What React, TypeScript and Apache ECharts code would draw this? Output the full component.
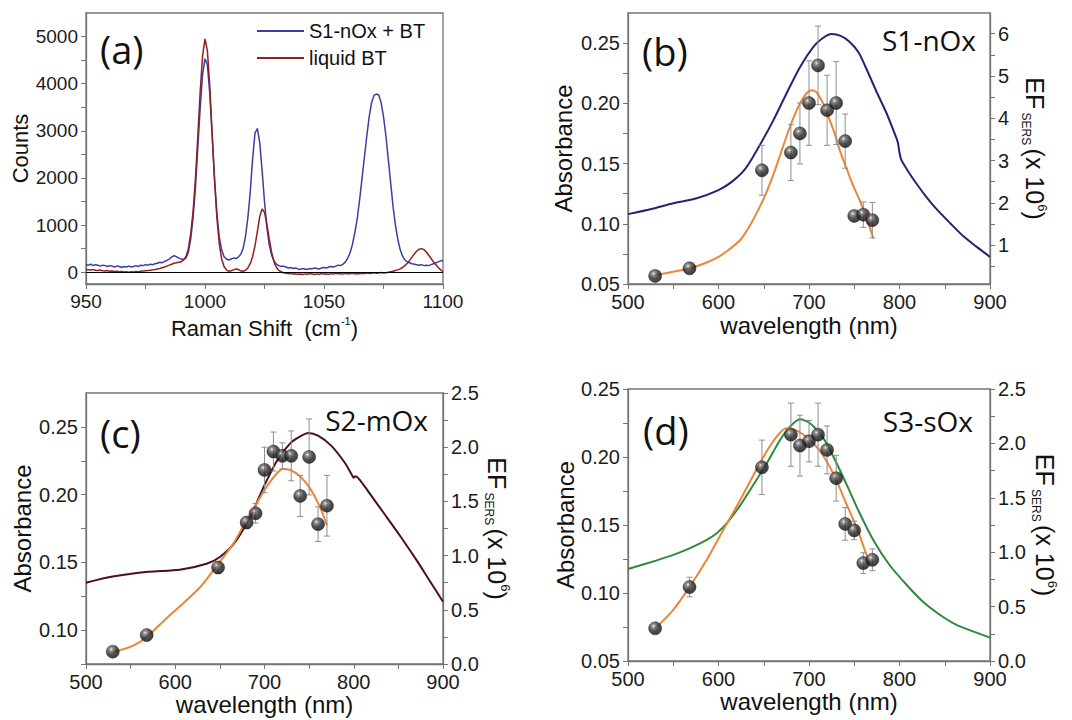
import React, { useEffect, useRef } from 'react';
import * as echarts from 'echarts';

// ---------------- (a) Raman spectra ----------------
const ramanShift = [
  950, 951, 952, 953, 954, 955, 956, 957, 958, 959,
  960, 961, 962, 963, 964, 965, 966, 967, 968, 969,
  970, 971, 972, 973, 974, 975, 976, 977, 978, 979,
  980, 981, 982, 983, 984, 985, 986, 987, 988, 989,
  990, 991, 992, 993, 994, 995, 996, 997, 998, 999,
  1000, 1001, 1002, 1003, 1004, 1005, 1006, 1007, 1008, 1009,
  1010, 1011, 1012, 1013, 1014, 1015, 1016, 1017, 1018, 1019,
  1020, 1021, 1022, 1023, 1024, 1025, 1026, 1027, 1028, 1029,
  1030, 1031, 1032, 1033, 1034, 1035, 1036, 1037, 1038, 1039,
  1040, 1041, 1042, 1043, 1044, 1045, 1046, 1047, 1048, 1049,
  1050, 1051, 1052, 1053, 1054, 1055, 1056, 1057, 1058, 1059,
  1060, 1061, 1062, 1063, 1064, 1065, 1066, 1067, 1068, 1069,
  1070, 1071, 1072, 1073, 1074, 1075, 1076, 1077, 1078, 1079,
  1080, 1081, 1082, 1083, 1084, 1085, 1086, 1087, 1088, 1089,
  1090, 1091, 1092, 1093, 1094, 1095, 1096, 1097, 1098, 1099,
  1100,
];
const countsS1BT = [
  160, 150, 170, 140, 160, 150, 130, 150, 140, 120,
  140, 130, 110, 130, 120, 100, 120, 110, 130, 110,
  120, 140, 120, 150, 140, 160, 150, 170, 160, 180,
  190, 210, 200, 230, 250, 280, 320, 350, 330, 300,
  280, 270, 300, 420, 700, 1150, 1800, 2650, 3500, 4200,
  4530, 4400, 3800, 2900, 2000, 1250, 750, 470, 330, 280,
  260, 280, 300, 290, 320, 380, 500, 750, 1150, 1700,
  2400, 2950, 3050, 2750, 2150, 1500, 950, 580, 360, 240,
  170, 140, 120, 130, 110, 90, 100, 80, 90, 70,
  60, 80, 70, 60, 80, 70, 90, 80, 70, 90,
  100, 90, 110, 120, 110, 130, 150, 140, 170, 220,
  300, 420, 600, 850, 1150, 1550, 2000, 2450, 2900, 3300,
  3600, 3750, 3780, 3760, 3600, 3300, 2900, 2400, 1900, 1400,
  1000, 700, 480, 340, 260, 220, 200, 180, 170, 160,
  150, 160, 140, 150, 140, 160, 180, 200, 220, 240,
  250,
];
const countsLiquidBT = [
  60, 50, 45, 55, 40, 35, 45, 30, 25, 35,
  20, 25, 15, 20, 10, 15, 5, 10, 0, 10,
  5, 15, 10, 20, 25, 30, 35, 40, 50, 55,
  70, 80, 95, 110, 130, 150, 170, 190, 200, 210,
  220, 260, 330, 500, 820, 1300, 2000, 2900, 3850, 4600,
  4950, 4700, 3950, 2950, 1950, 1150, 600, 280, 120, 50,
  20, 30, 50, 70, 60, 30, 20, 40, 90, 180,
  330, 560, 860, 1180, 1340, 1270, 1020, 700, 420, 220,
  100, 40, 10, -10, -20, -30, -25, -40, -35, -45,
  -40, -50, -35, -45, -30, -40, -50, -35, -45, -30,
  -40, -35, -45, -30, -40, -25, -35, -30, -40, -25,
  -35, -30, -20, -35, -25, -30, -20, -30, -15, -25,
  -20, -10, -20, -15, -5, -15, -10, 0, 10, 20,
  35, 50, 70, 100, 140, 190, 250, 320, 390, 450,
  490, 500, 480, 430, 360, 290, 220, 160, 100, 50,
  10,
];
const ramanTicks = [950, 975, 1000, 1025, 1050, 1075, 1100];
const ramanLabels = [950, 1000, 1050, 1100];
const countTicks = [0, 500, 1000, 1500, 2000, 2500, 3000, 3500, 4000, 4500, 5000];
const countLabels = [0, 1000, 2000, 3000, 4000, 5000];

// ---------------- shared wavelength axis ----------------
const wlTicks = [500, 550, 600, 650, 700, 750, 800, 850, 900];
const wlLabels = [500, 600, 700, 800, 900];
const ptWavelength = [530, 568, 648, 680, 690, 700, 710, 720, 730, 740, 750, 760, 770];

// ---------------- (b) S1-nOx ----------------
const absWavelengthB = [500, 525, 550, 575, 600, 615, 630, 645, 660, 675, 690, 705, 715, 725, 735, 745, 755, 765, 775, 785, 792, 798, 800, 802, 810, 820, 830, 840, 856, 870, 885, 900];
const absorbanceB = [0.108, 0.112, 0.117, 0.121, 0.128, 0.135, 0.146, 0.1645, 0.185, 0.208, 0.23, 0.247, 0.254, 0.2575, 0.256, 0.251, 0.242, 0.226, 0.209, 0.193, 0.18, 0.168, 0.159, 0.153, 0.143, 0.132, 0.122, 0.113, 0.1005, 0.09, 0.081, 0.0725];
const fitWavelengthB = [530, 550, 568, 585, 600, 612, 624, 633, 642, 652, 661, 670, 679, 685, 690, 697, 703, 708, 712, 718, 723, 729, 734, 740, 745, 750, 756, 761, 767, 771];
const fitEfB = [0.29, 0.37, 0.45, 0.57, 0.72, 0.9, 1.12, 1.4, 1.75, 2.2, 2.69, 3.25, 3.8, 4.12, 4.35, 4.58, 4.66, 4.62, 4.5, 4.25, 3.95, 3.6, 3.24, 2.9, 2.61, 2.35, 2.06, 1.78, 1.43, 1.16];
const efB = [0.27, 0.45, 2.77, 3.19, 3.64, 4.36, 5.25, 4.19, 4.36, 3.46, 1.69, 1.72, 1.59];
const efErrB = [0, 0, 0.59, 0.66, 0.72, 1.0, 0.93, 0.83, 0.98, 0.64, 0, 0.3, 0.42];
const absTicksB = [0.05, 0.075, 0.1, 0.125, 0.15, 0.175, 0.2, 0.225, 0.25];
const absLabelsB = [0.05, 0.1, 0.15, 0.2, 0.25];
const efTicksB = [0.5, 1, 1.5, 2, 2.5, 3, 3.5, 4, 4.5, 5, 5.5, 6];
const efLabelsB = [1, 2, 3, 4, 5, 6];

// ---------------- (c) S2-mOx ----------------
const absWavelengthC = [500, 530, 570, 605, 635, 650, 667, 685, 700, 714, 729, 740, 749, 760, 775, 790, 798, 800, 802, 806, 815, 833, 852, 870, 885, 900];
const absorbanceC = [0.135, 0.1395, 0.143, 0.1445, 0.149, 0.154, 0.165, 0.185, 0.207, 0.225, 0.238, 0.243, 0.2455, 0.2435, 0.236, 0.2235, 0.2145, 0.2125, 0.2135, 0.2115, 0.2035, 0.187, 0.1695, 0.152, 0.1365, 0.121];
const fitWavelengthC = [530, 553, 568, 590, 609, 628, 646, 665, 680, 691, 702, 714, 721, 729, 740, 751, 762, 770];
const fitEfC = [0.11, 0.17, 0.25, 0.42, 0.56, 0.71, 0.9, 1.11, 1.33, 1.48, 1.63, 1.76, 1.8, 1.79, 1.73, 1.62, 1.45, 1.28];
const efC = [0.114, 0.267, 0.89, 1.305, 1.39, 1.79, 1.96, 1.92, 1.92, 1.55, 1.91, 1.29, 1.46];
const efErrC = [0, 0, 0.05, 0.05, 0.09, 0.21, 0.18, 0.12, 0.23, 0.19, 0.35, 0.16, 0.28];
const absTicksC = [0.075, 0.1, 0.125, 0.15, 0.175, 0.2, 0.225, 0.25];
const absLabelsC = [0.1, 0.15, 0.2, 0.25];

// ---------------- (d) S3-sOx ----------------
const absWavelengthD = [500, 531, 550, 568, 587, 598, 609, 623, 638, 653, 668, 679, 690, 701, 716, 727, 741, 756, 771, 789, 808, 826, 845, 863, 882, 900];
const absorbanceD = [0.1176, 0.1238, 0.128, 0.1328, 0.139, 0.1439, 0.1512, 0.1635, 0.179, 0.195, 0.2125, 0.2223, 0.2277, 0.2248, 0.2137, 0.2002, 0.1806, 0.1586, 0.139, 0.1206, 0.1059, 0.0936, 0.0838, 0.0765, 0.0716, 0.0672];
const fitWavelengthD = [530, 550, 568, 587, 605, 624, 642, 655, 665, 675, 686, 697, 712, 727, 741, 753, 765];
const fitEfD = [0.3, 0.47, 0.68, 0.93, 1.2, 1.48, 1.76, 1.95, 2.07, 2.14, 2.12, 2.06, 1.93, 1.72, 1.45, 1.22, 0.94];
const efD = [0.3, 0.68, 1.78, 2.08, 1.98, 2.02, 2.08, 1.94, 1.68, 1.26, 1.2, 0.9, 0.93];
const efErrD = [0, 0.09, 0.25, 0.29, 0.28, 0.19, 0.29, 0.22, 0.21, 0.15, 0.085, 0.095, 0.1];
const absTicksD = [0.05, 0.075, 0.1, 0.125, 0.15, 0.175, 0.2, 0.225, 0.25];
const absLabelsD = [0.05, 0.1, 0.15, 0.2, 0.25];

const efTicksCD = [0, 0.25, 0.5, 0.75, 1, 1.25, 1.5, 1.75, 2, 2.25, 2.5];
const efLabelsCD = [0, 0.5, 1, 1.5, 2, 2.5];

// ---------------- styling ----------------
const TICK_FONT = '"Liberation Sans", Arial, sans-serif';
const TAG_FONT = '"Open Sans", "Noto Sans", sans-serif';
const AX = '#747474';
const ORANGE = '#ec8637';

const zip = (xs: number[], ys: number[]) => xs.map((x, i) => [x, ys[i]]);

function nameStyle(size: number) {
  return {
    fontFamily: TICK_FONT,
    fontSize: size,
    color: '#111',
    rich: {
      t: { fontFamily: TICK_FONT, fontSize: size, color: '#111', lineHeight: size + 4, verticalAlign: 'middle' },
      sup: { fontFamily: TICK_FONT, fontSize: Math.round(size * 0.52), color: '#111', lineHeight: Math.round(size * 0.52), verticalAlign: 'top' },
      sub: { fontFamily: TICK_FONT, fontSize: 12, color: '#111', lineHeight: 12, verticalAlign: 'bottom' },
    },
  };
}

function valueAxis(o: any) {
  return {
    type: 'value',
    gridIndex: o.grid,
    min: o.min,
    max: o.max,
    position: o.position,
    name: o.name,
    nameLocation: 'middle',
    nameGap: o.nameGap,
    nameRotate: o.nameRotate,
    nameTextStyle: nameStyle(o.nameSize),
    axisLine: { show: true, onZero: false, lineStyle: { color: AX, width: 1.3 } },
    axisTick: { show: true, inside: false, length: 5, customValues: o.ticks, lineStyle: { color: AX, width: 1 } },
    axisLabel: {
      customValues: o.labels,
      margin: 8,
      fontFamily: TICK_FONT,
      fontSize: o.labelSize,
      color: '#1c1c1c',
      formatter: o.fmt,
    },
    splitLine: { show: false },
  };
}

const sphere = {
  type: 'radial',
  x: 0.38,
  y: 0.32,
  r: 0.75,
  colorStops: [
    { offset: 0, color: '#eeeeee' },
    { offset: 0.18, color: '#7a7a7a' },
    { offset: 0.5, color: '#2a2a2c' },
    { offset: 1, color: '#060606' },
  ],
};

const errRender = (_params: any, api: any) => {
  const x = api.value(0);
  const lo = api.value(1);
  const hi = api.value(2);
  const top = api.coord([x, hi]);
  const bot = api.coord([x, lo]);
  const cap = 3;
  const st = { stroke: '#8e8e8e', lineWidth: 1 };
  return {
    type: 'group',
    children: [
      { type: 'line', shape: { x1: top[0], y1: top[1], x2: bot[0], y2: bot[1] }, style: st },
      { type: 'line', shape: { x1: top[0] - cap, y1: top[1], x2: top[0] + cap, y2: top[1] }, style: st },
      { type: 'line', shape: { x1: bot[0] - cap, y1: bot[1], x2: bot[0] + cap, y2: bot[1] }, style: st },
    ],
  };
};

function panelSeries(xi: number, yl: number, yr: number, absX: number[], absY: number[], absColor: string, fitX: number[], fitY: number[], ef: number[], err: number[]) {
  const errData = ptWavelength
    .map((w, i) => [w, ef[i] - err[i], ef[i] + err[i], err[i]])
    .filter((d) => d[3] > 0)
    .map((d) => [d[0], d[1], d[2]]);
  return [
    {
      type: 'line', xAxisIndex: xi, yAxisIndex: yl, data: zip(absX, absY), symbol: 'none', smooth: 0.25,
      lineStyle: { color: absColor, width: 2 }, itemStyle: { color: absColor }, z: 2,
    },
    {
      type: 'line', xAxisIndex: xi, yAxisIndex: yr, data: zip(fitX, fitY), symbol: 'none', smooth: 0.3,
      lineStyle: { color: ORANGE, width: 2 }, itemStyle: { color: ORANGE }, z: 3,
    },
    {
      type: 'custom', xAxisIndex: xi, yAxisIndex: yr, data: errData, renderItem: errRender,
      encode: { x: 0, y: [1, 2] }, z: 4,
    },
    {
      type: 'scatter', xAxisIndex: xi, yAxisIndex: yr, data: zip(ptWavelength, ef), symbol: 'circle', symbolSize: 13,
      itemStyle: { color: sphere, borderColor: '#111', borderWidth: 0.5 }, z: 5,
    },
  ];
}

const efName = '{t|EF}{sub| SERS }{t|(x 10}{sup|6}{t|)}';
const wlName = '{t|wavelength (nm)}';

function buildOption(): any {
  const grids = [
    { left: 86, top: 13, width: 357, height: 271 },
    { left: 628, top: 13, width: 362, height: 271 },
    { left: 86, top: 393, width: 357, height: 271 },
    { left: 628, top: 389, width: 362, height: 272 },
  ].map((g) => ({ ...g, show: true, borderColor: AX, borderWidth: 1.3, backgroundColor: 'transparent' }));

  const f2 = (v: number) => v.toFixed(2);
  const f1 = (v: number) => v.toFixed(1);
  const f0 = (v: number) => String(Math.round(v));

  const xAxis = [
    valueAxis({ grid: 0, min: 950, max: 1100, position: 'bottom', ticks: ramanTicks, labels: ramanLabels, fmt: f0, labelSize: 19, name: '{t|Raman Shift  (cm}{sup|-1}{t|)}', nameGap: 31, nameSize: 22 }),
    valueAxis({ grid: 1, min: 500, max: 900, position: 'bottom', ticks: wlTicks, labels: wlLabels, fmt: f0, labelSize: 20, name: wlName, nameGap: 27, nameSize: 24 }),
    valueAxis({ grid: 2, min: 500, max: 900, position: 'bottom', ticks: wlTicks, labels: wlLabels, fmt: f0, labelSize: 20, name: wlName, nameGap: 22, nameSize: 24 }),
    valueAxis({ grid: 3, min: 500, max: 900, position: 'bottom', ticks: wlTicks, labels: wlLabels, fmt: f0, labelSize: 20, name: wlName, nameGap: 25, nameSize: 24 }),
  ];
  const yAxis = [
    valueAxis({ grid: 0, min: -250, max: 5500, position: 'left', ticks: countTicks, labels: countLabels, fmt: f0, labelSize: 19, name: '{t|Counts}', nameGap: 50, nameSize: 22 }),
    valueAxis({ grid: 1, min: 0.05, max: 0.275, position: 'left', ticks: absTicksB, labels: absLabelsB, fmt: f2, labelSize: 20, name: '{t|Absorbance}', nameGap: 51, nameSize: 24 }),
    valueAxis({ grid: 1, min: 0.08, max: 6.49, position: 'right', ticks: efTicksB, labels: efLabelsB, fmt: f0, labelSize: 20, name: efName, nameGap: 30, nameRotate: -90, nameSize: 25 }),
    valueAxis({ grid: 2, min: 0.075, max: 0.275, position: 'left', ticks: absTicksC, labels: absLabelsC, fmt: f2, labelSize: 20, name: '{t|Absorbance}', nameGap: 50, nameSize: 24 }),
    valueAxis({ grid: 2, min: 0, max: 2.5, position: 'right', ticks: efTicksCD, labels: efLabelsCD, fmt: f1, labelSize: 20, name: efName, nameGap: 37, nameRotate: -90, nameSize: 25 }),
    valueAxis({ grid: 3, min: 0.05, max: 0.25, position: 'left', ticks: absTicksD, labels: absLabelsD, fmt: f2, labelSize: 20, name: '{t|Absorbance}', nameGap: 47, nameSize: 24 }),
    valueAxis({ grid: 3, min: 0, max: 2.5, position: 'right', ticks: efTicksCD, labels: efLabelsCD, fmt: f1, labelSize: 20, name: efName, nameGap: 40, nameRotate: -90, nameSize: 25 }),
  ];

  const series: any[] = [
    {
      type: 'line', name: 'S1-nOx + BT', xAxisIndex: 0, yAxisIndex: 0, data: zip(ramanShift, countsS1BT), symbol: 'none',
      lineStyle: { color: '#3d3da3', width: 1.5 }, itemStyle: { color: '#3d3da3' }, z: 2,
    },
    {
      type: 'line', name: 'liquid BT', xAxisIndex: 0, yAxisIndex: 0, data: zip(ramanShift, countsLiquidBT), symbol: 'none',
      lineStyle: { color: '#8e1f22', width: 1.5 }, itemStyle: { color: '#8e1f22' }, z: 3,
      markLine: {
        silent: true, symbol: ['none', 'none'], label: { show: false },
        lineStyle: { color: '#000', width: 1, type: 'solid' }, data: [{ yAxis: 0 }],
      },
    },
    ...panelSeries(1, 1, 2, absWavelengthB, absorbanceB, '#25246f', fitWavelengthB, fitEfB, efB, efErrB),
    ...panelSeries(2, 3, 4, absWavelengthC, absorbanceC, '#4c0f1f', fitWavelengthC, fitEfC, efC, efErrC),
    ...panelSeries(3, 5, 6, absWavelengthD, absorbanceD, '#2f8a3e', fitWavelengthD, fitEfD, efD, efErrD),
  ];

  const tag = (text: string, x: number, y: number, size: number, align: string) => ({
    type: 'text', x, y, z: 10,
    style: { text, fontFamily: TAG_FONT, fontSize: size, fill: '#111', textAlign: align, textVerticalAlign: 'middle' },
  });

  return {
    animation: false,
    backgroundColor: '#ffffff',
    grid: grids,
    xAxis,
    yAxis,
    series,
    legend: {
      data: ['S1-nOx + BT', 'liquid BT'],
      orient: 'vertical', left: 257, top: 21, padding: 0,
      itemWidth: 47, itemHeight: 2, itemGap: 7, icon: 'rect', selectedMode: false,
      textStyle: { fontFamily: TICK_FONT, fontSize: 20, color: '#111' },
    },
    graphic: [
      tag('(a)', 100, 49, 38, 'left'),
      tag('(b)', 642, 51, 38, 'left'),
      tag('(c)', 100, 433, 38, 'left'),
      tag('(d)', 643, 430, 38, 'left'),
      tag('S1-nOx', 976, 40, 28, 'right'),
      tag('S2-mOx', 428, 420, 28, 'right'),
      tag('S3-sOx', 973, 421, 28, 'right'),
    ],
  };
}

export default function App() {
  const ref = useRef<HTMLDivElement>(null);
  useEffect(() => {
    if (!ref.current) return;
    const chart = echarts.init(ref.current, null, { renderer: 'svg' });
    chart.setOption(buildOption());
    return () => chart.dispose();
  }, []);
  return (
    <div
      ref={ref}
      style={{ position: 'fixed', left: 0, top: 0, width: 1072, height: 720, background: '#fff' }}
    />
  );
}
